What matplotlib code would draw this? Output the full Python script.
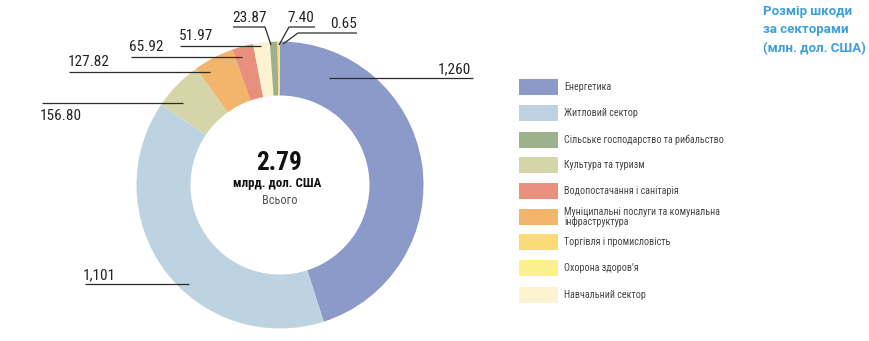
import matplotlib
matplotlib.use("Agg")
import matplotlib.pyplot as plt
from matplotlib.patches import Rectangle

# Damage by sector, million USD (pie order, clockwise from 12 o'clock)
pie_sectors = [
    "Енергетика",
    "Житловий сектор",
    "Культура та туризм",
    "Муніципальні послуги та комунальна інфраструктура",
    "Водопостачання і санітарія",
    "Навчальний сектор",
    "Сільське господарство та рибальство",
    "Торгівля і промисловість",
    "Охорона здоров’я",
]
pie_values = [1260, 1101, 156.80, 127.82, 65.92, 51.97, 23.87, 7.40, 0.65]
pie_labels = ["1,260", "1,101", "156.80", "127.82", "65.92", "51.97", "23.87", "7.40", "0.65"]

# Legend order
legend_sectors = [
    "Енергетика",
    "Житловий сектор",
    "Сільське господарство та рибальство",
    "Культура та туризм",
    "Водопостачання і санітарія",
    "Муніципальні послуги та комунальна\nінфраструктура",
    "Торгівля і промисловість",
    "Охорона здоров’я",
    "Навчальний сектор",
]

total_label = "2.79"
total_unit = "млрд. дол. США"
total_caption = "Всього"
title_lines = ["Розмір шкоди", "за секторами", "(млн. дол. США)"]

colors = {
    "Енергетика": "#8C9AC9",
    "Житловий сектор": "#BED3E2",
    "Сільське господарство та рибальство": "#9CB18C",
    "Культура та туризм": "#D6D4A9",
    "Водопостачання і санітарія": "#E9907C",
    "Муніципальні послуги та комунальна інфраструктура": "#F3B46B",
    "Торгівля і промисловість": "#FADB78",
    "Охорона здоров’я": "#FAF08C",
    "Навчальний сектор": "#FDF3D2",
}

W, H = 870, 341
fig = plt.figure(figsize=(W / 100, H / 100), dpi=100)
ax = fig.add_axes([0, 0, 1, 1])


def Y(py):
    """Convert a top-down pixel row to the axes' y coordinate."""
    return H - py


cond = ["Roboto Condensed", "DejaVu Sans"]
roboto = ["Roboto", "DejaVu Sans"]

cx, cy, r_out, ring = 280, 185, 143.5, 54
ax.pie(
    pie_values,
    colors=[colors[s] for s in pie_sectors],
    radius=r_out,
    center=(cx, Y(cy)),
    startangle=90,
    counterclock=False,
    wedgeprops=dict(width=ring, linewidth=0.3, edgecolor="none", antialiased=True),
)
ax.set_xlim(0, W)
ax.set_ylim(0, H)
ax.set_aspect("auto")
ax.axis("off")

# Leader lines and value labels: (text x, text y, ha, va, polyline)
label_layout = {
    "1,260": (471, 76, "right", "bottom", [(473, 78), (329, 78)]),
    "1,101": (83, 282, "left", "bottom", [(85, 284), (189, 284)]),
    "156.80": (40, 109, "left", "top", [(42, 103), (183, 103)]),
    "127.82": (68, 69, "left", "bottom", [(69, 72), (210, 72)]),
    "65.92": (129, 54, "left", "bottom", [(131, 57), (242, 57)]),
    "51.97": (179, 43, "left", "bottom", [(180, 46), (261, 46)]),
    "23.87": (232, 25, "left", "bottom", [(233, 27), (265, 27), (271, 45)]),
    "7.40": (287, 25, "left", "bottom", [(315, 27), (289, 27), (279, 45)]),
    "0.65": (330, 31, "left", "bottom", [(357, 33), (298, 33), (283, 44)]),
}
for lab in pie_labels:
    tx, ty, ha, va, pts = label_layout[lab]
    xs = [p[0] for p in pts]
    ys = [Y(p[1]) for p in pts]
    ax.plot(xs, ys, color="#2b2b2b", lw=0.9, solid_capstyle="butt")
    ax.text(tx, Y(ty), lab, ha=ha, va=va, fontsize=11, family=cond, color="#222222")

# Total in the centre of the ring
ax.text(cx - 1, Y(163.5), total_label, ha="center", va="center", fontsize=18.3,
        fontweight="bold", family=cond, color="#111111")
ax.text(cx - 3, Y(183.5), total_unit, ha="center", va="center", fontsize=9.3,
        fontweight="bold", family=cond, color="#111111")
ax.text(cx, Y(201), total_caption, ha="center", va="center", fontsize=8.9,
        family=cond, color="#555555")

# Legend
row_y = [87, 113, 140, 165, 191, 217, 242, 268, 295]
for name, ry in zip(legend_sectors, row_y):
    key = name.replace("\n", " ")
    ax.add_patch(Rectangle((519, Y(ry + 8)), 39, 16, facecolor=colors[key],
                           edgecolor="none"))
    ax.text(564, Y(ry), name, ha="left", va="center", fontsize=7.2,
            family=cond, color="#444444", linespacing=1.0)

# Title
for i, line in enumerate(title_lines):
    ax.text(763, Y(11 + 19 * i), line, ha="left", va="center", fontsize=9.5,
            fontweight="bold", family=roboto, color="#3C9FDA")

fig.savefig("out.png", dpi=100)
